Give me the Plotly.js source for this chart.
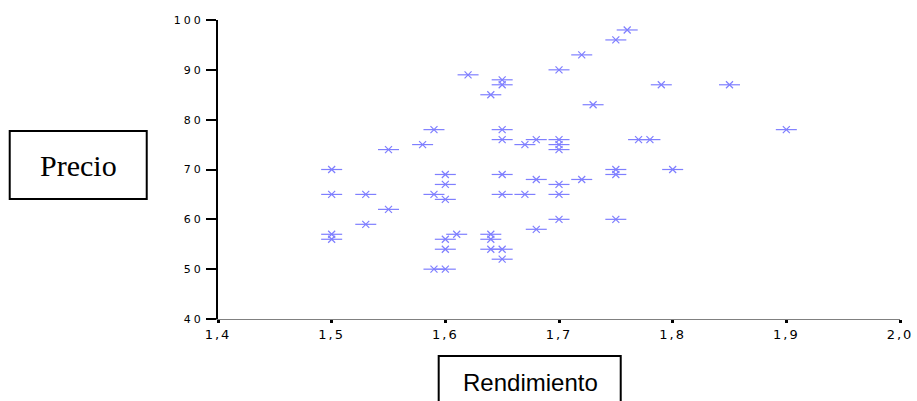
<!DOCTYPE html>
<html>
<head>
<meta charset="utf-8">
<script src="https://cdn.plot.ly/plotly-3.0.1.min.js"></script>
<style>
html,body{margin:0;padding:0;background:#fff;}
#chart{width:917px;height:401px;}
.ytick text{letter-spacing:3px;}
.xtick text{letter-spacing:2px;}
</style>
</head>
<body>
<div id="chart"></div>
<script>
// Rendimiento (x) and Precio (y)
var rendimiento = [
  1.50,1.50,1.50,1.50,
  1.53,1.53,
  1.55,1.55,
  1.58,
  1.59,1.59,1.59,
  1.60,1.60,1.60,1.60,1.60,1.60,
  1.61,
  1.62,
  1.64,1.64,1.64,1.64,
  1.65,1.65,1.65,1.65,1.65,1.65,1.65,1.65,
  1.67,1.67,
  1.68,1.68,1.68,
  1.70,1.70,1.70,1.70,1.70,1.70,1.70,
  1.72,1.72,
  1.73,
  1.75,1.75,1.75,1.75,
  1.76,
  1.77,
  1.78,
  1.79,
  1.80,
  1.85,
  1.90
];
var precio = [
  70,65,57,56,
  65,59,
  74,62,
  75,
  78,65,50,
  69,67,64,56,54,50,
  57,
  89,
  85,57,56,54,
  88,87,78,76,69,65,54,52,
  75,65,
  76,68,58,
  90,76,75,74,67,65,60,
  93,68,
  83,
  96,70,69,60,
  98,
  76,
  76,
  87,
  70,
  87,
  78
];
var xTitle = "Rendimiento";
var yTitle = "Precio";

var markColor = "#7f7fff";
var traces = [
  {x: rendimiento, y: precio, type: "scatter", mode: "markers", cliponaxis: false,
   marker: {symbol: "line-ew", size: 15, color: markColor, line: {color: markColor, width: 1.2}}},
  {x: rendimiento, y: precio, type: "scatter", mode: "markers", cliponaxis: false,
   marker: {symbol: "x-thin", size: 7, color: markColor, line: {color: markColor, width: 1.2}}}
];

var tickFontY = {family: "DejaVu Sans", size: 11, color: "#000"};
var tickFontX = {family: "DejaVu Sans", size: 13, color: "#000"};

var layout = {
  width: 917, height: 401,
  margin: {l: 218, r: 17, t: 20, b: 82},
  paper_bgcolor: "#fff", plot_bgcolor: "#fff",
  showlegend: false, hovermode: false,
  separators: ",.",
  xaxis: {
    range: [1.4, 2.0], dtick: 0.1, tick0: 1.4, tickformat: ".1f",
    showgrid: false, zeroline: false,
    showline: true, linecolor: "#808080", linewidth: 1,
    ticks: "outside", ticklen: 3, tickwidth: 3, tickcolor: "#000",
    tickfont: tickFontX
  },
  yaxis: {
    range: [40, 100], dtick: 10, tick0: 40,
    showgrid: false, zeroline: false,
    showline: true, linecolor: "#000", linewidth: 2,
    ticks: "outside", ticklen: 10, tickwidth: 2, tickcolor: "#000",
    tickfont: tickFontY
  },
  shapes: [
    {type: "rect", xref: "paper", yref: "paper",
     x0: -0.3054, x1: -0.1045, y0: 0.4013, y1: 0.6288,
     line: {color: "#000", width: 2}, fillcolor: "rgba(0,0,0,0)"},
    {type: "rect", xref: "paper", yref: "paper",
     x0: 0.3236, x1: 0.5905, y0: -0.40, y1: -0.1237,
     line: {color: "#000", width: 2}, fillcolor: "rgba(0,0,0,0)"}
  ],
  annotations: [
    {text: yTitle, xref: "paper", yref: "paper", x: -0.205, y: 0.515,
     xanchor: "center", yanchor: "middle", showarrow: false,
     font: {family: "Liberation Serif", size: 30, color: "#000"}},
    {text: xTitle, xref: "paper", yref: "paper", x: 0.4578, y: -0.212,
     xanchor: "center", yanchor: "middle", showarrow: false,
     font: {family: "Liberation Sans", size: 24, color: "#000"}}
  ]
};

Plotly.newPlot("chart", traces, layout, {displayModeBar: false, staticPlot: true});
</script>
</body>
</html>
